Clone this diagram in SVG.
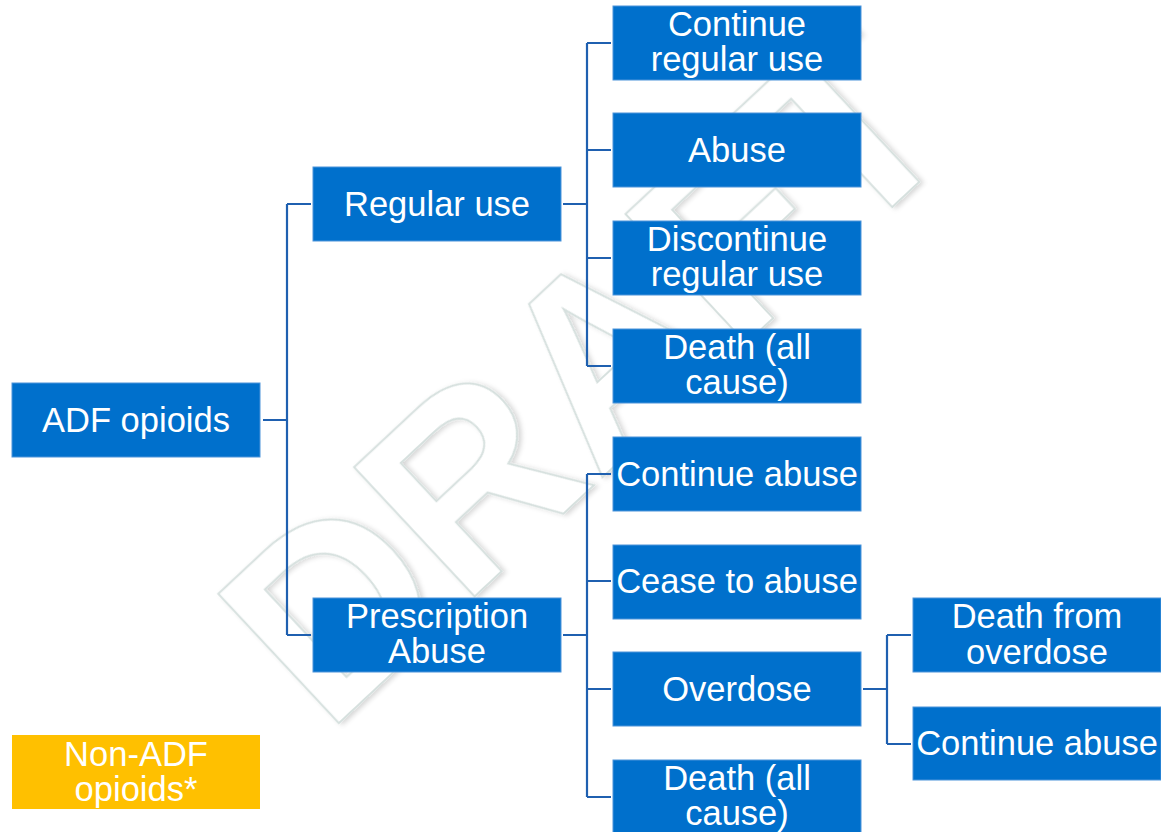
<svg xmlns="http://www.w3.org/2000/svg" width="1161" height="832" viewBox="0 0 1161 832">
<defs>
<filter id="wmShadow" x="-10%" y="-10%" width="120%" height="120%">
<feDropShadow dx="2" dy="3" stdDeviation="2.5" flood-color="#000" flood-opacity="0.16"/>
</filter>
<style>
.box{fill:#0070CC;stroke:#4d94da;stroke-width:1}
.ybox{fill:#FFC000;stroke:none}
.lbl{font-family:"Liberation Sans",Arial,sans-serif;font-size:34.5px;fill:#fff;text-anchor:middle}
.conn{fill:none;stroke:#1F60B0;stroke-width:2.2}
.wm{font-family:"Liberation Sans",Arial,sans-serif;font-weight:bold;font-size:257px;fill:#fff;stroke:#d6e0de;stroke-width:2;font-kerning:none}
</style>
</defs>
<rect width="1161" height="832" fill="#fff"/>
<g id="watermark">
<text class="wm" transform="translate(326.3,734.8) rotate(-43)" filter="url(#wmShadow)">DRAFT</text>
</g>
<g id="connectors">
<path class="conn" d="M263 420 H287 M287 204 V635 M287 204 H311 M287 635 H311"/>
<path class="conn" d="M563 204 H587 M587 43 V366 M587 43 H611 M587 150 H611 M587 258 H611 M587 366 H611"/>
<path class="conn" d="M563 635 H587 M587 474 V797 M587 474 H611 M587 581 H611 M587 689 H611 M587 797 H611"/>
<path class="conn" d="M863 689 H887 M887 635 V744 M887 635 H911 M887 744 H911"/>
</g>
<g id="n-adf"><rect class="box" x="12" y="383" width="248" height="74"/><text class="lbl" x="136" y="432">ADF opioids</text></g>
<g id="n-regular"><rect class="box" x="313" y="167" width="248" height="74"/><text class="lbl" x="437" y="216">Regular use</text></g>
<g id="n-prescription"><rect class="box" x="313" y="598" width="248" height="74"/><text class="lbl" x="437" y="628">Prescription</text><text class="lbl" x="437" y="663">Abuse</text></g>
<g id="n-continue-regular"><rect class="box" x="613" y="6" width="248" height="74"/><text class="lbl" x="737" y="36">Continue</text><text class="lbl" x="737" y="71">regular use</text></g>
<g id="n-abuse"><rect class="box" x="613" y="113" width="248" height="74"/><text class="lbl" x="737" y="162">Abuse</text></g>
<g id="n-discontinue"><rect class="box" x="613" y="221" width="248" height="74"/><text class="lbl" x="737" y="251">Discontinue</text><text class="lbl" x="737" y="286">regular use</text></g>
<g id="n-death1"><rect class="box" x="613" y="329" width="248" height="74"/><text class="lbl" x="737" y="359">Death (all</text><text class="lbl" x="737" y="394">cause)</text></g>
<g id="n-continue-abuse"><rect class="box" x="613" y="437" width="248" height="74"/><text class="lbl" x="737" y="486">Continue abuse</text></g>
<g id="n-cease"><rect class="box" x="613" y="545" width="248" height="74"/><text class="lbl" x="737" y="593">Cease to abuse</text></g>
<g id="n-overdose"><rect class="box" x="613" y="652" width="248" height="74"/><text class="lbl" x="737" y="701">Overdose</text></g>
<g id="n-death2"><rect class="box" x="613" y="760" width="248" height="74"/><text class="lbl" x="737" y="790">Death (all</text><text class="lbl" x="737" y="825">cause)</text></g>
<g id="n-death-overdose"><rect class="box" x="913" y="598" width="248" height="74"/><text class="lbl" x="1037" y="628">Death from</text><text class="lbl" x="1037" y="664">overdose</text></g>
<g id="n-continue-abuse2"><rect class="box" x="913" y="707" width="248" height="73"/><text class="lbl" x="1037" y="755">Continue abuse</text></g>
<g id="n-nonadf"><rect class="ybox" x="12" y="735" width="248" height="74"/><text class="lbl" x="136" y="766">Non-ADF</text><text class="lbl" x="136" y="801">opioids*</text></g>
</svg>
